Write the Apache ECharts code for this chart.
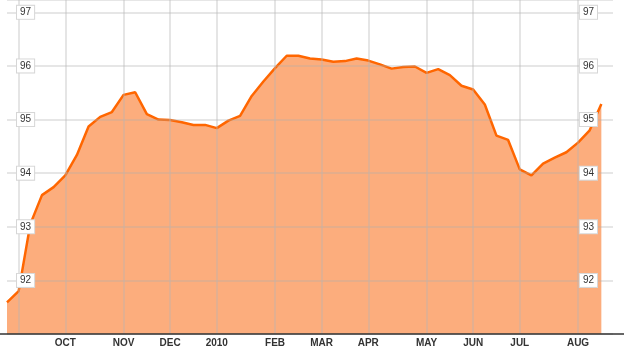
<!DOCTYPE html>
<html><head><meta charset="utf-8">
<script src="https://cdn.jsdelivr.net/npm/echarts@6/dist/echarts.min.js"></script>
<style>html,body{margin:0;padding:0;background:#fff}#c{width:624px;height:351px}</style>
</head><body><div id="c"></div>
<script>
const values = [91.59, 91.80, 93.05, 93.59, 93.74, 93.96, 94.34, 94.87, 95.05, 95.14,
  95.46, 95.51, 95.10, 95.00, 94.99, 94.95, 94.90, 94.90, 94.84, 94.98,
  95.07, 95.44, 95.71, 95.96, 96.19, 96.19, 96.14, 96.12, 96.08, 96.09,
  96.14, 96.10, 96.03, 95.95, 95.98, 95.99, 95.87, 95.94, 95.83, 95.63,
  95.56, 95.28, 94.70, 94.62, 94.07, 93.96, 94.18, 94.29, 94.39, 94.57,
  94.80, 95.29];
const tickIndex = [1, 5, 10, 14, 18, 23, 27, 31, 36, 40, 44, 49];
const tickNames = ['', 'OCT', 'NOV', 'DEC', '2010', 'FEB', 'MAR', 'APR', 'MAY', 'JUN', 'JUL', 'AUG'];
const weekCount = 53;

const categories = [];
for (let i = 0; i < weekCount; i++) {
  const k = tickIndex.indexOf(i);
  categories.push(k >= 0 ? tickNames[k] : '');
}
const isTick = (i) => tickIndex.indexOf(i) >= 0;

const labelStyle = {
  inside: true, color: '#333', fontSize: 10, fontFamily: 'Liberation Sans, Arial, sans-serif',
  backgroundColor: '#fff', borderColor: '#d6d6d6', borderWidth: 1, padding: [2, 3, 1, 3],
  showMinLabel: false, showMaxLabel: false
};
const labelAxis = (pos, margin) => ({
  type: 'value', gridIndex: 0, min: 91, max: 97.23, interval: 1, position: pos, z: 10,
  axisLine: { show: false }, axisTick: { show: false },
  axisLabel: Object.assign({ margin: margin }, labelStyle),
  splitLine: { show: false }
});

const chart = echarts.init(document.getElementById('c'));
chart.setOption({
  animation: false,
  grid: [
    { left: 7, right: 11, top: 0, bottom: 17 },
    { left: 0, right: 0, top: 0, bottom: 17 }
  ],
  xAxis: [
    {
      type: 'category', gridIndex: 0, data: categories, boundaryGap: false, z: 3,
      axisLine: { show: false },
      axisTick: { show: false },
      axisLabel: { interval: (i) => isTick(i), margin: 4, color: '#333', fontSize: 10,
        fontWeight: 'bold', fontFamily: 'Liberation Sans, Arial, sans-serif' },
      splitLine: { show: true, interval: (i) => isTick(i), lineStyle: { color: 'rgba(180,180,180,0.35)', width: 2 } }
    },
    {
      type: 'value', gridIndex: 1, min: 0, max: 1, position: 'bottom', z: 4,
      axisLine: { show: true, lineStyle: { color: '#333', width: 1.5 } },
      axisTick: { show: false }, axisLabel: { show: false }, splitLine: { show: false }
    }
  ],
  yAxis: [
    {
      type: 'value', gridIndex: 0, min: 91, max: 97.23, interval: 1, position: 'left', z: 3,
      axisLine: { show: false }, axisTick: { show: false }, axisLabel: { show: false },
      splitLine: { show: true, lineStyle: { color: 'rgba(170,170,170,0.4)', width: 1.5 } }
    },
    labelAxis('left', 10),
    labelAxis('right', 16),
    { type: 'value', gridIndex: 1, show: false, min: 0, max: 1 }
  ],
  series: [{
    type: 'line', xAxisIndex: 0, yAxisIndex: 0, data: values,
    symbol: 'none', smooth: false, z: 2,
    lineStyle: { color: '#ff6600', width: 2.5 },
    areaStyle: { color: 'rgb(250,100,10)', opacity: 0.53, origin: 'start' }
  }]
});
</script></body></html>
